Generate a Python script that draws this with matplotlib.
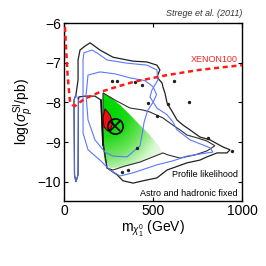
import numpy as np
import matplotlib
matplotlib.use("Agg")
import matplotlib.pyplot as plt
from matplotlib.colors import LinearSegmentedColormap
from matplotlib.patches import Polygon

plt.rcParams['font.family'] = ['Liberation Sans', 'DejaVu Sans']
plt.rcParams['mathtext.fontset'] = 'custom'
plt.rcParams['mathtext.rm'] = 'Liberation Sans'
plt.rcParams['mathtext.it'] = 'Liberation Sans:italic'

# ---------------- datos ----------------
# contorno exterior (negro), masa en GeV, log10(sigma/pb)
negro_x = [90, 118, 146, 163, 202, 275, 388, 466, 522, 539, 522, 551, 556, 567, 579,
           612, 635, 669, 708, 764, 820, 893, 933, 916, 860, 803, 764, 691, 579, 522,
           466, 388, 331, 298, 242, 230, 219, 213, 208, 174, 118, 84, 81, 79, 67, 59,
           56, 67, 79, 79]
negro_y = [-6.68, -6.58, -6.50, -6.55, -6.68, -6.86, -6.96, -6.98, -7.06, -7.18, -7.36,
           -7.51, -7.61, -7.76, -8.01, -8.26, -8.44, -8.57, -8.69, -8.87, -8.94, -9.12,
           -9.19, -9.27, -9.27, -9.37, -9.45, -9.52, -9.70, -9.90, -9.95, -10.03, -9.97,
           -9.82, -9.65, -9.32, -9.07, -8.44, -7.94, -7.84, -7.84, -7.86, -7.94, -9.82,
           -10.0, -9.82, -7.94, -7.81, -7.43, -6.93]

# contorno negro interior (68%)
negro2_x = [219, 287, 371, 444, 483, 556, 612, 652, 691, 747, 803, 848, 803, 736, 652,
            584, 556, 483, 427, 343, 275, 242, 230, 219]
negro2_y = [-7.76, -7.94, -8.14, -8.19, -8.24, -8.39, -8.57, -8.69, -8.82, -8.89,
            -8.97, -9.09, -9.22, -9.32, -9.40, -9.32, -9.27, -9.40, -9.50, -9.60,
            -9.70, -9.65, -9.32, -8.94]

# contorno azul exterior
azul_x = [112, 157, 185, 242, 354, 466, 522, 528, 494, 483, 522, 579, 612, 635, 708,
          781, 820, 837, 803, 691, 612, 522, 388, 315, 258, 202, 135, 107, 107, 107]
azul_y = [-6.75, -6.68, -6.75, -6.93, -7.01, -7.06, -7.18, -7.43, -7.69, -7.86, -8.14,
          -8.31, -8.49, -8.69, -8.94, -9.07, -9.14, -9.25, -9.27, -9.35, -9.47, -9.57,
          -9.77, -9.85, -9.70, -9.45, -9.19, -8.77, -7.76, -6.93]

# contorno azul interior
azul2_x = [135, 202, 287, 371, 455, 500, 520, 500, 470, 450, 438, 427, 354, 275, 230,
           174, 135, 124]
azul2_y = [-7.31, -7.23, -7.28, -7.38, -7.45, -7.60, -7.80, -8.00, -8.20, -8.50, -8.82,
           -9.09, -9.37, -9.35, -9.25, -8.94, -8.44, -7.81]

# embudo (pico estrecho) a m ~ mZ/2
pico_x = [56, 59, 67, 79, 81, 67]
pico_y = [-7.94, -9.82, -10.0, -9.82, -7.94, -7.81]

# region verde (68%)
verde_x = [219, 258, 315, 371, 427, 483, 539, 556, 483, 427, 343, 258, 225, 219]
verde_y = [-7.74, -7.86, -8.06, -8.31, -8.57, -8.82, -9.14, -9.27, -9.40, -9.52,
           -9.62, -9.65, -9.45, -8.94]

# region roja
rojo_x = [230, 258, 275, 262, 247, 225, 219]
rojo_y = [-8.16, -8.31, -8.52, -8.66, -8.72, -8.62, -8.39]

# mejor ajuste
mejor_x = 286
mejor_y = -8.6

# puntos sueltos
puntos_x = [270, 298, 399, 472, 410, 326, 944, 809, 440, 520, 585, 360, 620, 700]
puntos_y = [-7.46, -7.46, -7.48, -8.01, -9.14, -9.75, -9.22, -8.89, -7.55, -8.35,
            -8.05, -9.70, -7.45, -8.0]

# limite XENON100
xenon_x = [5, 20, 34, 50, 62, 80, 120, 200, 300, 400, 580, 760, 1000]
xenon_y = [-6.1, -7.3, -8.0, -8.07, -8.09, -8.02, -7.9, -7.74, -7.6, -7.47, -7.31,
           -7.18, -7.06]

xticks = [0, 500, 1000]
yticks = [-10, -9, -8, -7, -6]

# ---------------- figura ----------------
fig = plt.figure(figsize=(2.66, 2.66), dpi=100)
ax = fig.add_axes([0.2406, 0.2444, 0.669, 0.669])
ax.set_xlim(0, 1000)
ax.set_ylim(-10.48, -6)

# relleno verde con degradado
cmap = LinearSegmentedColormap.from_list(
    'verde', ['#ffffff', '#d4f7cc', '#70e460', '#20d818', '#00d800'])
gx, gy = np.meshgrid(np.linspace(200, 580, 200), np.linspace(-9.8, -7.6, 200))
d = np.sqrt(((gx - 230) / 380) ** 2 + ((gy + 8.2) / 1.9) ** 2)
img = ax.imshow(np.clip(1.1 - d, 0, 1), extent=[200, 580, -9.8, -7.6], origin='lower',
                cmap=cmap, vmin=0, vmax=1, aspect='auto', zorder=1)
verde = Polygon(np.column_stack([verde_x, verde_y]), closed=True, fc='none', ec='none')
ax.add_patch(verde)
img.set_clip_path(verde)

ax.fill(rojo_x, rojo_y, color='#ee1010', ec='#500000', lw=0.8, zorder=3)

ax.fill(negro_x, negro_y, fc='none', ec='#202020', lw=0.9, zorder=2)
ax.fill(negro2_x, negro2_y, fc='none', ec='#303030', lw=0.8, zorder=2)
ax.fill(azul_x, azul_y, fc='none', ec='#5a78ff', lw=0.8, zorder=2)
ax.fill(azul2_x, azul2_y, fc='none', ec='#5a78ff', lw=0.8, zorder=2)
ax.fill(pico_x, pico_y, fc='none', ec='#5a78ff', lw=0.6, zorder=2)
ax.plot([219, 213, 208], [-9.07, -8.44, -7.94], color='#101010', lw=1.2, zorder=3)

ax.scatter(puntos_x, puntos_y, s=2, color='#202020', zorder=3)

ax.plot(xenon_x, xenon_y, color='#ff1a1a', lw=1.8, ls=(0, (2, 1.5)), zorder=4)

ax.plot(mejor_x, mejor_y, marker='o', ms=11, mfc='none', mec='black', mew=1.2, zorder=5)
ax.plot(mejor_x, mejor_y, marker='x', ms=7, mec='black', mew=1.2, zorder=5)

ax.text(978, -6.93, 'XENON100', color='#ff2020', fontsize=6.5, ha='right', va='center')
ax.text(975, -9.82, 'Profile likelihood', fontsize=6.5, ha='right', va='center')
ax.text(975, -10.3, 'Astro and hadronic fixed', fontsize=6.5, ha='right', va='center')
ax.text(1.0, 1.03, 'Strege et al. (2011)', transform=ax.transAxes, fontsize=6.5,
        style='italic', color='#333333', ha='right', va='bottom')

ax.set_xticks(xticks)
ax.set_yticks(yticks)
ax.set_xticklabels([str(v) for v in xticks])
ax.set_yticklabels(['\u2212' + str(-v) for v in yticks])
ax.tick_params(direction='in', length=3, width=0.8, labelsize=10, right=True, top=True,
               pad=2)
for s in ax.spines.values():
    s.set_linewidth(1.0)

ax.set_xlabel(r'm$_{\chi_1^0}$ (GeV)', fontsize=10, labelpad=1)
ax.set_ylabel(r'log($\sigma_p^{\rm SI}$/pb)', fontsize=10, labelpad=1)

fig.savefig('out.png', dpi=100)
